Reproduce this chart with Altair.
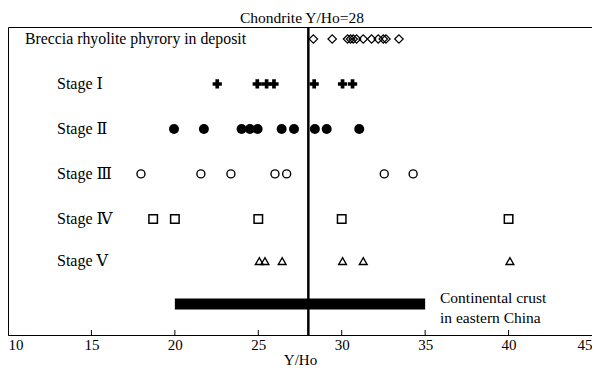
import altair as alt
import pandas as pd

# Y/Ho values for each group
breccia = [28.3, 29.43, 30.35, 30.53, 30.69, 30.89, 31.29, 31.79, 32.19, 32.49, 32.65, 33.43]
stage1 = [22.54, 24.94, 25.5, 25.94, 28.35, 30.05, 30.65]
stage2 = [19.95, 21.74, 24.0, 24.5, 24.96, 26.4, 27.14, 28.39, 29.1, 31.05]
stage3 = [17.97, 21.56, 23.36, 26.0, 26.7, 32.55, 34.28]
stage4 = [18.7, 20.0, 25.0, 30.0, 40.0]
stage5 = [25.06, 25.4, 26.43, 30.05, 31.29, 40.08]

group_names = ["Breccia rhyolite phyrory in deposit", "Stage Ⅰ", "Stage Ⅱ", "Stage Ⅲ", "Stage Ⅳ", "Stage Ⅴ"]
group_levels = [9.61, 8.15, 6.69, 5.23, 3.77, 2.40]

crust_range = [20.0, 35.0]
crust_level = 1.01
crust_label = ["Continental crust", "in eastern China"]
chondrite = 28
x_ticks = [15, 20, 25, 30, 35, 40]

FONT = "'Liberation Serif', 'DejaVu Serif', serif"
W, H = 584, 308

xs = alt.Scale(domain=[10, 45], nice=False, zero=False)
ys = alt.Scale(domain=[0, 10], nice=False, zero=False)

xaxis = alt.Axis(values=[10, 15, 20, 25, 30, 35, 40, 45], format="d",
                 title="Y/Ho", grid=False, ticks=False,
                 domainColor="black", labelColor="black",
                 labelFont=FONT, labelFontSize=15, labelFlush=True,
                 labelPadding=2, titleFont=FONT, titleFontSize=15,
                 titleFontWeight="normal", titleColor="black",
                 titlePadding=0)


def sym(vals, level, shape, size, filled, sw=1.3):
    df = pd.DataFrame({"v": vals, "lvl": [level] * len(vals)})
    return alt.Chart(df).mark_point(
        shape=shape, size=size, filled=filled, color="black",
        strokeWidth=sw, opacity=1
    ).encode(
        x=alt.X("v:Q", scale=xs, axis=xaxis),
        y=alt.Y("lvl:Q", scale=ys, axis=None),
    )


layers = [
    sym(breccia, group_levels[0], "diamond", 72, False, 1.2),
    sym(stage1, group_levels[1], "cross", 85, True),
    sym(stage2, group_levels[2], "circle", 100, True),
    sym(stage3, group_levels[3], "circle", 64, False, 1.4),
    sym(stage4, group_levels[4], "square", 72, False, 1.5),
    sym(stage5, group_levels[5], "triangle-up", 60, False, 1.4),
]

vline = alt.Chart(pd.DataFrame({"v": [chondrite]})).mark_rule(
    color="black", strokeWidth=2.5
).encode(x=alt.X("v:Q", scale=xs, axis=xaxis))

ticks = alt.Chart(pd.DataFrame({"v": x_ticks})).mark_rule(
    color="black", strokeWidth=1
).encode(x=alt.X("v:Q", scale=xs, axis=xaxis), y=alt.value(H), y2=alt.value(H - 5))

crust = alt.Chart(pd.DataFrame({"a": [crust_range[0]], "b": [crust_range[1]], "lvl": [crust_level]})).mark_rule(
    color="black", strokeWidth=11
).encode(x=alt.X("a:Q", scale=xs, axis=xaxis), x2="b:Q", y=alt.Y("lvl:Q", scale=ys, axis=None))

crust_df = pd.DataFrame({"t": crust_label, "lvl": [crust_level] * 2})
crust_text1 = alt.Chart(crust_df.iloc[[0]]).mark_text(
    align="left", baseline="middle", font=FONT, fontSize=15.5, color="black", dy=-6
).encode(x=alt.value(432), y=alt.Y("lvl:Q", scale=ys, axis=None), text="t:N")
crust_text2 = alt.Chart(crust_df.iloc[[1]]).mark_text(
    align="left", baseline="middle", font=FONT, fontSize=15.5, color="black", dy=14
).encode(x=alt.value(432), y=alt.Y("lvl:Q", scale=ys, axis=None), text="t:N")

lab_df = pd.DataFrame({"name": group_names, "lvl": group_levels})
breccia_label = alt.Chart(lab_df.iloc[[0]]).mark_text(
    align="left", baseline="middle", font=FONT, fontSize=15.8, color="black"
).encode(x=alt.value(17), y=alt.Y("lvl:Q", scale=ys, axis=None), text="name:N")
stage_labels = alt.Chart(lab_df.iloc[1:]).mark_text(
    align="left", baseline="middle", font=FONT, fontSize=16, color="black"
).encode(x=alt.value(49), y=alt.Y("lvl:Q", scale=ys, axis=None), text="name:N")

title_text = alt.Chart(pd.DataFrame({"t": ["Chondrite Y/Ho=28"]})).mark_text(
    align="center", baseline="bottom", font=FONT, fontSize=15.5, color="black"
).encode(x=alt.value(294), y=alt.value(-1), text="t:N")

chart = alt.layer(
    ticks, crust, vline, *layers, crust_text1, crust_text2, breccia_label, stage_labels, title_text
).properties(
    width=W, height=H,
    padding={"left": 0, "right": 0, "top": 3, "bottom": 0},
).configure_view(
    stroke="black", strokeWidth=1
)

chart.save("out.html", embed_options={"renderer": "svg", "actions": False})
